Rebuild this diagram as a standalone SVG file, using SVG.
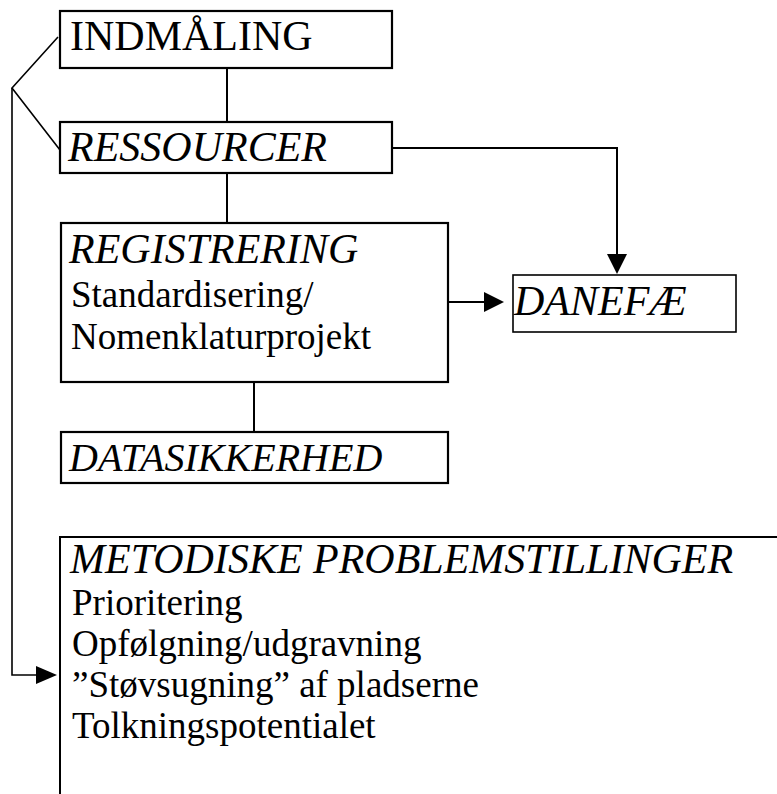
<svg xmlns="http://www.w3.org/2000/svg" width="777" height="794" viewBox="0 0 777 794">
  <style>
    .box { fill: #ffffff; stroke: #000000; stroke-width: 2.2; }
    .edge { fill: none; stroke: #000000; stroke-width: 2; }
    .thin { fill: none; stroke: #000000; stroke-width: 1.6; }
    .head { fill: #000000; stroke: none; }
    text { font-family: "Liberation Serif", "Times New Roman", serif; fill: #000000; }
    .h { font-size: 42px; }
    .i { font-style: italic; }
    .b { font-size: 37px; }
  </style>
  <rect width="777" height="794" fill="#ffffff"/>

  <g id="connectors">
    <line class="edge" x1="227" y1="68" x2="227" y2="122"/>
    <line class="edge" x1="227" y1="173" x2="227" y2="223"/>
    <line class="edge" x1="254" y1="382" x2="254" y2="432"/>
    <polyline class="edge" points="392,148 617,148 617,256"/>
    <polygon class="head" points="607,254 627,254 617,274"/>
    <line class="edge" x1="448" y1="302" x2="486" y2="302"/>
    <polygon class="head" points="484,292 484,312 504,302"/>
    <polyline class="thin" points="58,37 12,88 60,150"/>
    <polyline class="thin" points="12,88 12,675 38,675"/>
    <polygon class="head" points="36,666 36,684 57,675"/>
  </g>

  <g id="indmaaling">
    <rect class="box" x="60" y="11" width="332" height="57"/>
    <text class="h" x="70" y="50">INDMÅLING</text>
  </g>

  <g id="ressourcer">
    <rect class="box" x="60" y="122" width="332" height="51"/>
    <text class="h i" x="68" y="161">RESSOURCER</text>
  </g>

  <g id="registrering">
    <rect class="box" x="61" y="223" width="387" height="159"/>
    <text class="h i" x="69" y="263">REGISTRERING</text>
    <text class="b" x="71" y="307">Standardisering/</text>
    <text class="b" x="71" y="349">Nomenklaturprojekt</text>
  </g>

  <g id="datasikkerhed">
    <rect class="box" x="61" y="432" width="387" height="51"/>
    <text class="i" font-size="40" x="69" y="471">DATASIKKERHED</text>
  </g>

  <g id="danefae">
    <rect x="513" y="275" width="223" height="57" fill="#ffffff" stroke="#000000" stroke-width="1.6"/>
    <text class="h i" x="514" y="315">DANEFÆ</text>
  </g>

  <g id="metodiske">
    <path class="edge" d="M777,537 H60 V794" stroke-width="2.2"/>
    <text class="h i" x="70" y="573">METODISKE PROBLEMSTILLINGER</text>
    <text class="b" x="72" y="615">Prioritering</text>
    <text class="b" x="72" y="656">Opfølgning/udgravning</text>
    <text class="b" x="72" y="697">”Støvsugning” af pladserne</text>
    <text class="b" x="72" y="738">Tolkningspotentialet</text>
  </g>
</svg>
